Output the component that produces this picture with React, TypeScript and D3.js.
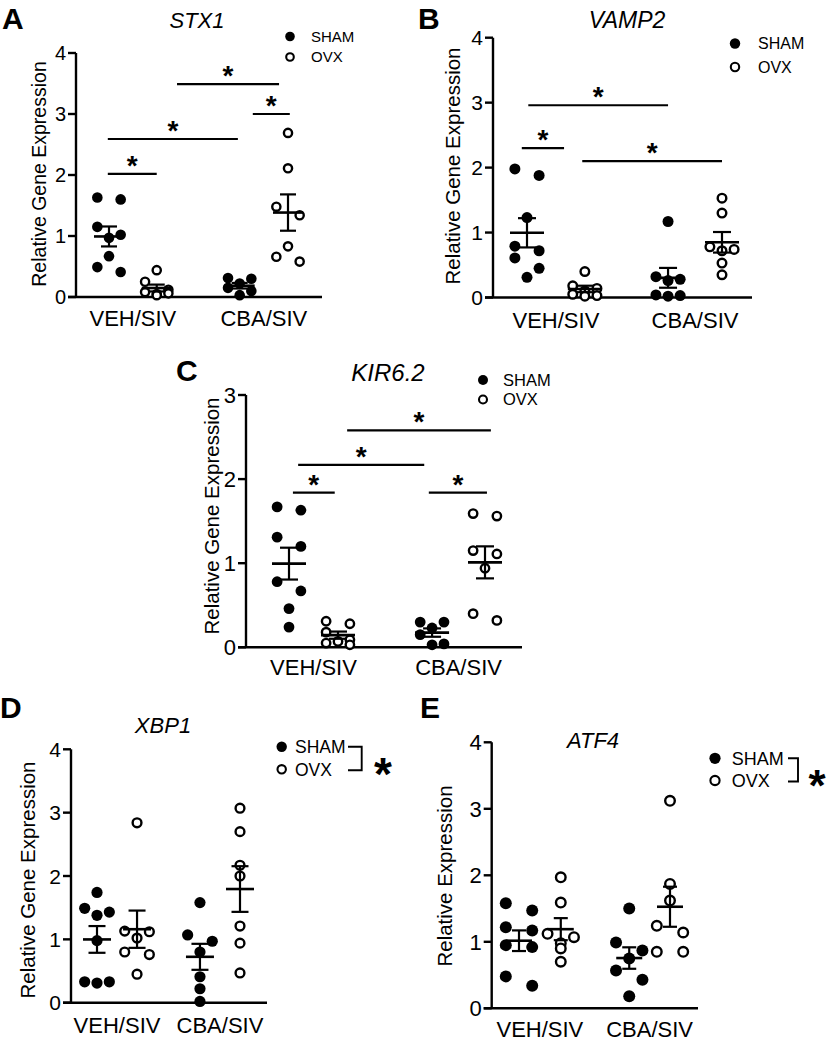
import React from "react";
import * as d3 from "d3";

// ---------- data ----------
const groupLabels = ["VEH/SIV", "CBA/SIV"];
const seriesLabels = ["SHAM", "OVX"];

const ticks3 = [0, 1, 2, 3];
const ticks4 = [0, 1, 2, 3, 4];

// STX1
const stx1ShamVeh = [1.63, 1.6, 1.15, 1.02, 0.97, 0.67, 0.49, 0.41];
const stx1OvxVeh = [0.44, 0.25, 0.12, 0.08, 0.05, 0.03, 0.06];
const stx1ShamCba = [0.31, 0.3, 0.22, 0.15, 0.1, 0.03];
const stx1OvxCba = [2.69, 2.11, 1.48, 1.34, 0.83, 0.66, 0.58];
// significance bars: [from slot, to slot, height value]
const stx1Sig = [
  [-0.02, 0.8, 2.02],
  [-0.02, 2.16, 2.59],
  [1.14, 2.85, 3.49],
  [2.41, 3.03, 3.0],
];

// VAMP2
const vampShamVeh = [1.98, 1.88, 1.23, 0.79, 0.72, 0.61, 0.45, 0.31];
const vampOvxVeh = [0.4, 0.18, 0.14, 0.1, 0.05, 0.03, 0.02];
const vampShamCba = [1.17, 0.32, 0.28, 0.26, 0.04, 0.03, 0.02];
const vampOvxCba = [1.53, 1.3, 0.78, 0.74, 0.72, 0.53, 0.35];
const vampSig = [
  [0.02, 2.17, 2.96],
  [-0.08, 0.57, 2.3],
  [0.85, 3.0, 2.1],
];

// KIR6.2
const kirShamVeh = [1.67, 1.63, 1.31, 1.2, 0.78, 0.67, 0.46, 0.24];
const kirOvxVeh = [0.31, 0.28, 0.18, 0.09, 0.07, 0.05, 0.03];
const kirShamCba = [0.3, 0.3, 0.23, 0.15, 0.04, 0.03];
const kirOvxCba = [1.59, 1.56, 1.15, 1.11, 0.94, 0.4, 0.32];
const kirSig = [
  [0.06, 0.7, 1.84],
  [0.14, 2.07, 2.17],
  [0.89, 3.09, 2.58],
  [2.14, 3.03, 1.84],
];

// XBP1
const xbpShamVeh = [1.74, 1.49, 1.43, 1.38, 0.98, 0.33, 0.33, 0.31];
const xbpOvxVeh = [2.84, 1.13, 1.12, 1.02, 0.8, 0.76, 0.45];
const xbpShamCba = [1.58, 1.07, 0.97, 0.8, 0.41, 0.22, 0.02];
const xbpOvxCba = [3.07, 2.7, 2.17, 2.0, 1.21, 0.94, 0.47];

// ATF4
const atfShamVeh = [1.58, 1.47, 1.22, 1.17, 0.95, 0.92, 0.48, 0.34];
const atfOvxVeh = [1.97, 1.59, 1.12, 1.07, 0.98, 0.9, 0.7];
const atfShamCba = [1.5, 0.99, 0.87, 0.75, 0.57, 0.43, 0.18];
const atfOvxCba = [3.12, 1.87, 1.62, 1.24, 1.14, 0.85, 0.85];

// ---------- layout ----------
type Layout = {
  axisX: number; xEnd: number; y0: number; yTop: number;
  xFirst: number; xLast: number; slots: number[];
  r: number; meanHalf: number; capHalf: number;
  tickFont: number; labelFont: number; labelBase: number;
  letterX: number; letterBase: number;
  titleX: number; titleBase: number; titleFont: number;
  yLabX: number; yLabY: number; yLabFont: number;
  legX: number; legY1: number; legY2: number; legTextX: number; legFont: number; legR: number;
  bracket?: { x1: number; x2: number; starX: number; starY: number; starFont: number };
};

type PanelCfg = {
  letter: string; title: string; yLabel: string; yMax: number; ticks: number[];
  groups: number[][]; sig: number[][]; L: Layout;
};

const FONT = "'Liberation Sans', Arial, Helvetica, sans-serif";

const panels: PanelCfg[] = [
  {
    letter: "A", title: "STX1", yLabel: "Relative Gene Expression", yMax: 4, ticks: ticks4,
    groups: [stx1ShamVeh, stx1OvxVeh, stx1ShamCba, stx1OvxCba], sig: stx1Sig,
    L: {
      axisX: 76, xEnd: 322, y0: 297, yTop: 53, xFirst: 109, xLast: 288, slots: [0, 0.8, 2.19, 3],
      r: 5.3, meanHalf: 15, capHalf: 8, tickFont: 20, labelFont: 22, labelBase: 326,
      letterX: 2, letterBase: 29, titleX: 197, titleBase: 28, titleFont: 22,
      yLabX: 39, yLabY: 174, yLabFont: 19.5,
      legX: 290, legY1: 36.5, legY2: 57, legTextX: 311, legFont: 15, legR: 4.8,
    },
  },
  {
    letter: "B", title: "VAMP2", yLabel: "Relative Gene Expression", yMax: 4, ticks: ticks4,
    groups: [vampShamVeh, vampOvxVeh, vampShamCba, vampOvxCba], sig: vampSig,
    L: {
      axisX: 493, xEnd: 752, y0: 297.5, yTop: 37.7, xFirst: 527, xLast: 722, slots: [0, 0.89, 2.17, 3],
      r: 5.5, meanHalf: 17, capHalf: 9, tickFont: 21, labelFont: 22, labelBase: 328,
      letterX: 418, letterBase: 29, titleX: 627, titleBase: 28, titleFont: 23,
      yLabX: 453, yLabY: 166, yLabFont: 20.5,
      legX: 735, legY1: 43.5, legY2: 67, legTextX: 758, legFont: 16, legR: 5.2,
    },
  },
  {
    letter: "C", title: "KIR6.2", yLabel: "Relative Gene Expression", yMax: 3, ticks: ticks3,
    groups: [kirShamVeh, kirOvxVeh, kirShamCba, kirOvxCba], sig: kirSig,
    L: {
      axisX: 246, xEnd: 522, y0: 647.3, yTop: 395, xFirst: 289, xLast: 485, slots: [0, 0.75, 2.19, 3],
      r: 5.4, meanHalf: 17, capHalf: 9, tickFont: 22, labelFont: 22, labelBase: 675,
      letterX: 176, letterBase: 381, titleX: 388, titleBase: 381, titleFont: 24,
      yLabX: 212, yLabY: 516, yLabFont: 20.5,
      legX: 483, legY1: 380, legY2: 399.5, legTextX: 503, legFont: 16.5, legR: 5,
    },
  },
  {
    letter: "D", title: "XBP1", yLabel: "Relative Gene Expression", yMax: 4, ticks: ticks4,
    groups: [xbpShamVeh, xbpOvxVeh, xbpShamCba, xbpOvxCba], sig: [],
    L: {
      axisX: 71, xEnd: 267, y0: 1002.7, yTop: 749.3, xFirst: 97, xLast: 240, slots: [0, 0.84, 2.16, 3],
      r: 5.6, meanHalf: 14, capHalf: 8.5, tickFont: 21, labelFont: 22, labelBase: 1033,
      letterX: 0, letterBase: 718, titleX: 163, titleBase: 733, titleFont: 22,
      yLabX: 28, yLabY: 880, yLabFont: 20.5,
      legX: 281.7, legY1: 746.7, legY2: 769.3, legTextX: 295, legFont: 17.5, legR: 5.2,
      bracket: { x1: 348, x2: 361.7, starX: 383, starY: 763.5, starFont: 46 },
    },
  },
  {
    letter: "E", title: "ATF4", yLabel: "Relative Expression", yMax: 4, ticks: ticks4,
    groups: [atfShamVeh, atfOvxVeh, atfShamCba, atfOvxCba], sig: [],
    L: {
      axisX: 491.7, xEnd: 698, y0: 1008.3, yTop: 742.3, xFirst: 519, xLast: 670, slots: [0, 0.83, 2.19, 3],
      r: 6, meanHalf: 13, capHalf: 7, tickFont: 22, labelFont: 22, labelBase: 1037,
      letterX: 420, letterBase: 718, titleX: 593, titleBase: 748, titleFont: 22,
      yLabX: 445, yLabY: 876, yLabFont: 20.5,
      legX: 715, legY1: 758.3, legY2: 780.5, legTextX: 731.7, legFont: 18, legR: 5.6,
      bracket: { x1: 788, x2: 798, starX: 817, starY: 776, starFont: 44 },
    },
  },
];

// ---------- helpers ----------
// GraphPad-like scatter: values that overlap vertically share a row (max 3) spread over columns
const MAX_ROW = 3;
function columnOrder(n: number): number[] {
  if (n === 1) return [0];
  if (n === 2) return [-1, 1];
  return [-1, 1, 0];
}

function swarm(vals: number[], cx: number, y: d3.ScaleLinear<number, number>, r: number) {
  const sorted = [...vals].sort((a, b) => b - a);
  const thr = 2 * r * 0.95;
  const step = 2 * r * 1.1;
  const rows: number[][] = [];
  sorted.forEach((v) => {
    const last = rows[rows.length - 1];
    if (last && last.length < MAX_ROW && Math.abs(y(v) - y(last[0])) < thr) last.push(v);
    else rows.push([v]);
  });
  const pts: { v: number; x: number; y: number }[] = [];
  rows.forEach((row) => {
    const cols = columnOrder(row.length);
    row.forEach((v, i) => pts.push({ v, x: cx + cols[i] * step, y: y(v) }));
  });
  return pts;
}

function Panel({ cfg }: { cfg: PanelCfg }) {
  const L = cfg.L;
  const y = d3.scaleLinear().domain([0, cfg.yMax]).range([L.y0, L.yTop]);
  const x = d3.scaleLinear().domain([0, 3]).range([L.xFirst, L.xLast]);
  const swarms = cfg.groups.map((vals, gi) => swarm(vals, x(L.slots[gi]), y, L.r));
  const stats = cfg.groups.map((vals) => {
    const m = d3.mean(vals) as number;
    const sem = (d3.deviation(vals) as number) / Math.sqrt(vals.length);
    return { m, sem };
  });
  const labelCenters = [0, 1].map((k) => (x(L.slots[2 * k]) + x(L.slots[2 * k + 1])) / 2);
  const sw = 2.4;
  const starSize = 28;
  return (
    <g>
      <text x={L.letterX} y={L.letterBase} fontSize={30} fontWeight="bold">{cfg.letter}</text>
      <text x={L.titleX} y={L.titleBase} fontSize={L.titleFont} fontStyle="italic" textAnchor="middle">{cfg.title}</text>

      {/* y axis */}
      <line x1={L.axisX} x2={L.axisX} y1={y(0)} y2={y(cfg.yMax)} stroke="#000" strokeWidth={sw} />
      {cfg.ticks.map((t) => (
        <g key={t}>
          <line x1={L.axisX - 8} x2={L.axisX} y1={y(t)} y2={y(t)} stroke="#000" strokeWidth={sw} />
          <text x={L.axisX - 10} y={y(t)} dy="0.36em" textAnchor="end" fontSize={L.tickFont}>{t}</text>
        </g>
      ))}
      <text
        transform={`translate(${L.yLabX},${L.yLabY}) rotate(-90)`}
        textAnchor="middle"
        dy="0.35em"
        fontSize={L.yLabFont}
      >
        {cfg.yLabel}
      </text>

      {/* x axis */}
      <line x1={L.axisX - 8} x2={L.xEnd} y1={y(0)} y2={y(0)} stroke="#000" strokeWidth={sw} />
      {groupLabels.map((g, k) => (
        <text key={g} x={labelCenters[k]} y={L.labelBase} textAnchor="middle" fontSize={L.labelFont}>{g}</text>
      ))}

      {/* points */}
      {swarms.map((pts, gi) =>
        pts.map((p, i) =>
          gi % 2 === 0 ? (
            <circle key={`${gi}-${i}`} cx={p.x} cy={p.y} r={L.r} fill="#000" />
          ) : (
            <circle key={`${gi}-${i}`} cx={p.x} cy={p.y} r={L.r - 1.2} fill="#fff" stroke="#000" strokeWidth={2.4} />
          )
        )
      )}

      {/* mean & SEM */}
      {stats.map((s, gi) => {
        const cx = x(L.slots[gi]);
        const top = y(s.m + s.sem);
        const bot = y(Math.max(0, s.m - s.sem));
        return (
          <g key={gi} stroke="#000">
            <line x1={cx} x2={cx} y1={top} y2={bot} strokeWidth={2.2} />
            <line x1={cx - L.capHalf} x2={cx + L.capHalf} y1={top} y2={top} strokeWidth={2.2} />
            <line x1={cx - L.capHalf} x2={cx + L.capHalf} y1={bot} y2={bot} strokeWidth={2.2} />
            <line x1={cx - L.meanHalf} x2={cx + L.meanHalf} y1={y(s.m)} y2={y(s.m)} strokeWidth={2.6} />
          </g>
        );
      })}

      {/* significance bars */}
      {cfg.sig.map(([a, b, v], i) => (
        <g key={i}>
          <line x1={x(a)} x2={x(b)} y1={y(v)} y2={y(v)} stroke="#000" strokeWidth={2.2} />
          <text x={(x(a) + x(b)) / 2} y={y(v) + 1} textAnchor="middle" fontSize={starSize} fontWeight="bold">*</text>
        </g>
      ))}

      {/* legend */}
      <circle cx={L.legX} cy={L.legY1} r={L.legR} fill="#000" />
      <circle cx={L.legX} cy={L.legY2} r={L.legR - 1} fill="#fff" stroke="#000" strokeWidth={2.1} />
      <text x={L.legTextX} y={L.legY1} dy="0.36em" fontSize={L.legFont}>{seriesLabels[0]}</text>
      <text x={L.legTextX} y={L.legY2} dy="0.36em" fontSize={L.legFont}>{seriesLabels[1]}</text>
      {L.bracket && (
        <g>
          <path
            d={`M${L.bracket.x1},${L.legY1} H${L.bracket.x2} V${L.legY2 + 1} H${L.bracket.x1}`}
            fill="none"
            stroke="#000"
            strokeWidth={1.9}
          />
          <text
            x={L.bracket.starX}
            y={L.bracket.starY + 0.57 * L.bracket.starFont}
            textAnchor="middle"
            fontSize={L.bracket.starFont}
            fontWeight="bold"
          >
            *
          </text>
        </g>
      )}
    </g>
  );
}

export default function App() {
  return (
    <svg
      width={827}
      height={1043}
      viewBox="0 0 827 1043"
      style={{ position: "absolute", left: 0, top: 0, background: "#fff" }}
      fontFamily={FONT}
    >
      <rect x={0} y={0} width={827} height={1043} fill="#fff" />
      {panels.map((p) => (
        <Panel key={p.letter} cfg={p} />
      ))}
    </svg>
  );
}
